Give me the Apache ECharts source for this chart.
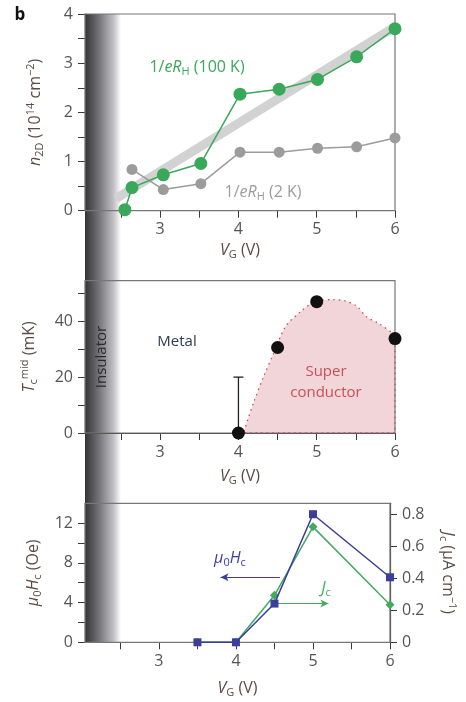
<!DOCTYPE html>
<html><head><meta charset="utf-8">
<script src="https://cdn.jsdelivr.net/npm/echarts@6/dist/echarts.min.js"></script>
<style>html,body{margin:0;padding:0;background:#fff}#c{width:466px;height:702px}</style>
</head><body><div id="c"></div>
<script>
// ---------- data ----------
const vgTicks = [2.5, 3, 3.5, 4, 4.5, 5, 5.5, 6];
const vgLabels = [3, 4, 5, 6];
const n2dTicksLabels = [0, 1, 2, 3, 4];
const tcLabels = [0, 20, 40];
const hcLabels = [0, 4, 8, 12];
const jcLabels = [0, 0.2, 0.4, 0.6, 0.8];
const hall100K = [[2.55, 0.02], [2.64, 0.47], [3.04, 0.73], [3.52, 0.96], [4.02, 2.37], [4.52, 2.47], [5.01, 2.67], [5.51, 3.13], [6.0, 3.70]];
const hall2K = [[2.64, 0.84], [3.04, 0.43], [3.52, 0.55], [4.02, 1.19], [4.52, 1.19], [5.01, 1.27], [5.51, 1.30], [6.0, 1.48]];
const trendLine = [[2.43, 0.24], [6.0, 3.74]];
const tcPoints = [[4.0, 0], [4.5, 30.6], [5.0, 47.0], [6.0, 33.8]];
const tcErrorBar = [[4.0, 0, 20]];
const scBoundary = [[4.07, 0.5], [4.19, 10.6], [4.32, 20.1], [4.45, 28.5], [4.6, 38], [4.79, 43.3], [5.0, 47.3], [5.21, 47.7], [5.36, 47.3], [5.51, 45.4], [5.64, 41.5], [5.79, 39.2], [5.98, 35.6], [6.0, 35.3]];
const scEdge = [[6.0, 35.3], [6.0, 0], [4.07, 0]];
const hcData = [[3.5, 0], [4.0, 0], [4.5, 3.9], [5.0, 12.9], [6.0, 6.55]];
const jcData = [[3.5, 0], [4.0, 0], [4.5, 0.293], [5.0, 0.72], [6.0, 0.234]];
const hcArrow = [[4.57, 6.54], [3.80, 6.54]];
const jcArrow = [[4.53, 3.92], [5.20, 3.92]];
const insulatorRange = [2.04, 2.5];
const vgRange = [2.04, 6];

// ---------- styles ----------
const FONT = 'Open Sans';
const AX = '#3a3a3a';
const TICKC = '#555555';
const TITLEC = '#5b4b45';
const GREEN = '#3aa85a';
const GRAY = '#9c9c9c';
const BLUE = '#3d3d9c';
const JGREEN = '#45aa60';

function rich(color, size) {
  return {
    n: {color, fontSize: size, fontFamily: FONT, lineHeight: 20},
    i: {color, fontSize: size, fontFamily: FONT, fontStyle: 'italic', lineHeight: 20},
    sub: {color, fontSize: Math.round(size * 0.68), fontFamily: FONT, lineHeight: 12, verticalAlign: 'bottom'},
    sup: {color, fontSize: Math.round(size * 0.68), fontFamily: FONT, lineHeight: 12, verticalAlign: 'top'}
  };
}

function xAxisCfg(gridIndex, nameGap) {
  return {
    type: 'value', gridIndex, min: vgRange[0], max: vgRange[1],
    name: '{i|V}{sub|G}{n| (V)}', nameLocation: 'middle', nameGap,
    nameTextStyle: {rich: rich(TITLEC, 16)},
    axisLine: {lineStyle: {color: AX, width: 1.2}},
    axisTick: {customValues: vgTicks, length: 7, lineStyle: {color: AX}},
    axisLabel: {customValues: vgLabels, color: TICKC, fontSize: 16, fontFamily: FONT, margin: 11},
    splitLine: {show: false}
  };
}

const chart = echarts.init(document.getElementById('c'), null, {renderer: 'canvas'});

const gridBase = {left: 85, right: 71, show: true, borderColor: '#777', borderWidth: 1.2, backgroundColor: 'transparent', z: 3};

const option = {
  animation: false,
  backgroundColor: '#fff',
  grid: [
    Object.assign({top: 14, height: 196.7}, gridBase),
    Object.assign({top: 280.7, height: 152.3}, gridBase),
    Object.assign({top: 503.3, height: 139}, gridBase)
  ],
  xAxis: [xAxisCfg(0, 30), xAxisCfg(1, 33), xAxisCfg(2, 36)],
  yAxis: [
    {
      type: 'value', gridIndex: 0, min: 0, max: 4, interval: 0.5,
      name: '{i|n}{sub|2D}{n| (10}{sup|14}{n| cm}{sup|−2}{n|)}', nameLocation: 'middle', nameRotate: 90, nameGap: 40,
      nameTextStyle: {rich: rich(TITLEC, 16)},
      axisLine: {show: true, lineStyle: {color: AX, width: 1.2}},
      axisTick: {length: 7, lineStyle: {color: AX}},
      axisLabel: {customValues: n2dTicksLabels, color: TICKC, fontSize: 16, fontFamily: FONT, margin: 12},
      splitLine: {show: false}
    },
    {
      type: 'value', gridIndex: 1, min: 0, max: 54.5, interval: 10,
      name: '{i|T}{sub|c}{sup|mid}{n| (mK)}', nameLocation: 'middle', nameRotate: 90, nameGap: 46,
      nameTextStyle: {rich: rich(TITLEC, 16)},
      axisLine: {show: true, lineStyle: {color: AX, width: 1.2}},
      axisTick: {customValues: [0, 10, 20, 30, 40, 50], length: 7, lineStyle: {color: AX}},
      axisLabel: {customValues: tcLabels, color: TICKC, fontSize: 16, fontFamily: FONT, margin: 12},
      splitLine: {show: false}
    },
    {
      type: 'value', gridIndex: 2, min: 0, max: 14, interval: 2,
      name: '{i|μ}{sub|0}{i|H}{sub|c}{n| (Oe)}', nameLocation: 'middle', nameRotate: 90, nameGap: 38,
      nameTextStyle: {rich: rich(TITLEC, 16)},
      axisLine: {show: true, lineStyle: {color: AX, width: 1.2}},
      axisTick: {customValues: [0, 2, 4, 6, 8, 10, 12], length: 7, lineStyle: {color: AX}},
      axisLabel: {customValues: hcLabels, color: TICKC, fontSize: 16, fontFamily: FONT, margin: 12},
      splitLine: {show: false}
    },
    {
      type: 'value', gridIndex: 2, position: 'right', min: 0, max: 0.867,
      name: '{i|J}{sub|c}{n| (μA cm}{sup|−1}{n|)}', nameLocation: 'middle', nameRotate: -90, nameGap: 48,
      nameTextStyle: {rich: rich(TITLEC, 16)},
      axisLine: {show: true, lineStyle: {color: AX, width: 1.2}},
      axisTick: {customValues: jcLabels, length: 7, lineStyle: {color: AX}},
      axisLabel: {customValues: jcLabels, color: TICKC, fontSize: 16, fontFamily: FONT, margin: 12},
      splitLine: {show: false}
    }
  ],
  series: [
    {
      type: 'line', xAxisIndex: 0, yAxisIndex: 0, data: trendLine, symbol: 'none', z: 1,
      lineStyle: {color: '#d2d2d3', width: 9, cap: 'butt'}, silent: true
    },
    {
      type: 'line', xAxisIndex: 0, yAxisIndex: 0, data: hall2K, symbol: 'circle', symbolSize: 11, z: 3,
      itemStyle: {color: GRAY}, lineStyle: {color: GRAY, width: 1.5}
    },
    {
      type: 'line', xAxisIndex: 0, yAxisIndex: 0, data: hall100K, symbol: 'circle', symbolSize: 13, z: 4,
      itemStyle: {color: GREEN}, lineStyle: {color: GREEN, width: 1.5}
    },
    {
      type: 'line', xAxisIndex: 1, yAxisIndex: 1, data: scBoundary, symbol: 'none', smooth: 0.3, z: 2,
      lineStyle: {color: '#c64a55', width: 1.3, type: [1.5, 4]},
      areaStyle: {color: '#f1d5d8', opacity: 1}
    },
    {
      type: 'line', xAxisIndex: 1, yAxisIndex: 1, data: scEdge, symbol: 'none', z: 4,
      lineStyle: {color: '#c64a55', width: 1.3, type: [1.5, 4]}
    },
    {
      type: 'custom', xAxisIndex: 1, yAxisIndex: 1, data: tcErrorBar, z: 5,
      renderItem: function (params, api) {
        const p0 = api.coord([api.value(0), api.value(1)]);
        const p1 = api.coord([api.value(0), api.value(2)]);
        return {type: 'group', children: [
          {type: 'line', shape: {x1: p0[0], y1: p0[1], x2: p1[0], y2: p1[1]}, style: {stroke: '#222', lineWidth: 1.3}},
          {type: 'line', shape: {x1: p1[0] - 5, y1: p1[1], x2: p1[0] + 5, y2: p1[1]}, style: {stroke: '#222', lineWidth: 1.3}}
        ]};
      }
    },
    {
      type: 'scatter', xAxisIndex: 1, yAxisIndex: 1, data: tcPoints, symbol: 'circle', symbolSize: 13, z: 6,
      itemStyle: {color: '#111111', opacity: 1}
    },
    {
      type: 'line', xAxisIndex: 2, yAxisIndex: 3, data: jcData, symbol: 'diamond', symbolSize: 9, z: 4,
      itemStyle: {color: JGREEN}, lineStyle: {color: JGREEN, width: 1.5}
    },
    {
      type: 'line', xAxisIndex: 2, yAxisIndex: 2, data: hcData, symbol: 'rect', symbolSize: 8, z: 5,
      itemStyle: {color: BLUE}, lineStyle: {color: BLUE, width: 1.5},
      markLine: {
        silent: true, symbol: ['none', 'arrow'], symbolSize: [6, 8], label: {show: false},
        data: [
          [{coord: hcArrow[0], lineStyle: {color: BLUE, width: 1.2, type: 'solid'}}, {coord: hcArrow[1]}],
          [{coord: jcArrow[0], lineStyle: {color: JGREEN, width: 1.2, type: 'solid'}}, {coord: jcArrow[1]}]
        ]
      }
    }
  ]
};
chart.setOption(option);

// ---------- decorations positioned from axis scales ----------
const bx0 = chart.convertToPixel({xAxisIndex: 0}, insulatorRange[0]);
const bx1 = chart.convertToPixel({xAxisIndex: 0}, insulatorRange[1]);
const by0 = chart.convertToPixel({yAxisIndex: 0}, 4);
const by1 = chart.convertToPixel({yAxisIndex: 2}, 0);

function txt(x, y, text, color, size, extra) {
  return Object.assign({
    type: 'text', x, y, z: 10,
    style: {text, rich: rich(color, size), fill: color, fontSize: size, fontFamily: FONT, align: 'center', verticalAlign: 'middle'}
  }, extra || {});
}

chart.setOption({
  graphic: [
    {
      type: 'rect', z: -5, silent: true,
      shape: {x: bx0, y: by0, width: bx1 - bx0, height: by1 - by0},
      style: {fill: new echarts.graphic.LinearGradient(0, 0, 1, 0, [
        {offset: 0, color: '#343436'}, {offset: 0.4, color: '#76767b'},
        {offset: 0.8, color: '#c2c2c6'}, {offset: 1, color: '#ffffff'}])}
    },
    {type: 'text', x: 20, y: 15, z: 10, style: {text: 'b', fill: '#111', fontSize: 17, fontWeight: 'bold', fontFamily: FONT, align: 'center', verticalAlign: 'middle'}},
    txt(197, 67, '{n|1/}{i|eR}{sub|H}{n| (100 K)}', GREEN, 16),
    txt(263, 192, '{n|1/}{i|eR}{sub|H}{n| (2 K)}', GRAY, 16),
    txt(177, 342, '{n|Metal}', '#2e3b55', 15),
    txt(326, 372, '{n|Super}', '#c8505a', 15),
    txt(326, 393, '{n|conductor}', '#c8505a', 15),
    txt(102, 357, '{n|Insulator}', '#2a2a2a', 15, {rotation: Math.PI / 2}),
    txt(230, 558, '{i|μ}{sub|0}{i|H}{sub|c}', BLUE, 16),
    txt(326, 588, '{i|J}{sub|c}', JGREEN, 16)
  ]
});
</script>
</body></html>
